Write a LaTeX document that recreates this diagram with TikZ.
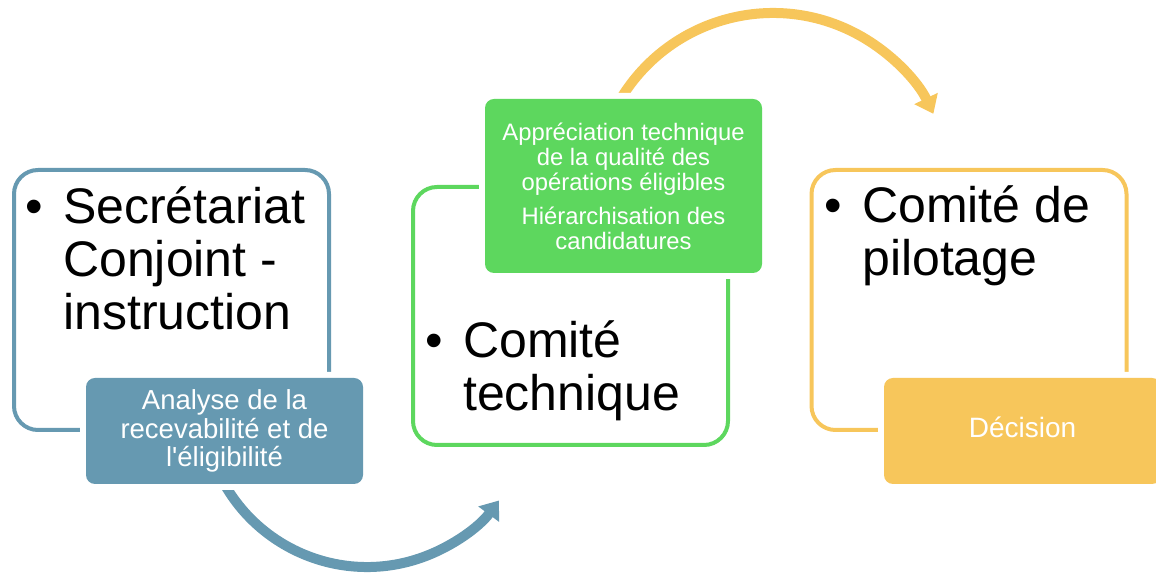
\documentclass[tikz,border=0pt]{standalone}
\usepackage{fontspec}
\setmainfont{Liberation Sans}[Ligatures=TeXOff]
\usetikzlibrary{arrows.meta}
\definecolor{cblue}{HTML}{6699B1}
\definecolor{cgreen}{HTML}{5DD75E}
\definecolor{cyellow}{HTML}{F7C65B}
\newcommand\mybullets[1]{\parbox[t]{330pt}{\fontsize{50}{53}\selectfont\rightskip=0pt plus 1fil\noindent\hangindent=37.5pt\hangafter=1\makebox[37.5pt][l]{•}#1}}
\begin{document}
\begin{tikzpicture}[x=1pt,y=1pt,
  outlinebox/.style={draw, line width=4pt, rounded corners=24pt, minimum width=315pt, minimum height=260pt, inner sep=0pt},
  fillbox/.style={rounded corners=9pt, minimum width=277pt, inner sep=0pt, text=white, align=center, preaction={draw=white, fill=white, line width=12pt}},
  bigtext/.style={anchor=base west, inner sep=0pt, text=black},
  arcarrow/.style={line width=10pt, -{Triangle[length=17pt,width=25pt]}},
]
\useasboundingbox (0,0) rectangle (1156,577);
% outline boxes
\node[outlinebox, draw=cblue] (blueout) at (171.5,277) {};
\node[outlinebox, draw=cgreen, minimum height=258pt] (greenout) at (570.5,261) {};
\node[outlinebox, draw=cyellow] (yelout) at (969,277) {};
% arcs
\coordinate (bluec) at (367,174);
\coordinate (yelc) at (773,386);
\draw[arcarrow, cblue] ([shift={(200:164)}]bluec) arc[start angle=200, end angle=323.5, radius=164];
\draw[arcarrow, cyellow] ([shift={(150:178)}]yelc) arc[start angle=150, end angle=25.7, radius=178];
% filled boxes
\node[fillbox, fill=cblue, minimum height=106pt, font=\fontsize{27.5}{28.5}\selectfont] (bluefill) at (224.5,146) {Analyse de la\\recevabilité et de\\l'éligibilité};
\node[fillbox, fill=cgreen, minimum height=174pt, font=\fontsize{23.8}{25}\selectfont] (greenfill) at (623.5,391) {Appréciation technique\\de la qualité des\\opérations éligibles\\[9pt]Hiérarchisation des\\candidatures};
\node[fillbox, fill=cyellow, minimum height=106pt, font=\fontsize{28}{30}\selectfont, text height=20pt, text depth=7pt] (yelfill) at (1022.5,146) {Décision};
% big texts
\node[bigtext] (bluetxt) at (25.5,353) {\mybullets{Secrétariat\\Conjoint -\\instruction}};
\node[bigtext] (greentxt) at (425.5,219) {\mybullets{Comité\\technique}};
\node[bigtext] (yeltxt) at (824.5,354) {\mybullets{Comité de\\pilotage}};
\end{tikzpicture}
\end{document}
